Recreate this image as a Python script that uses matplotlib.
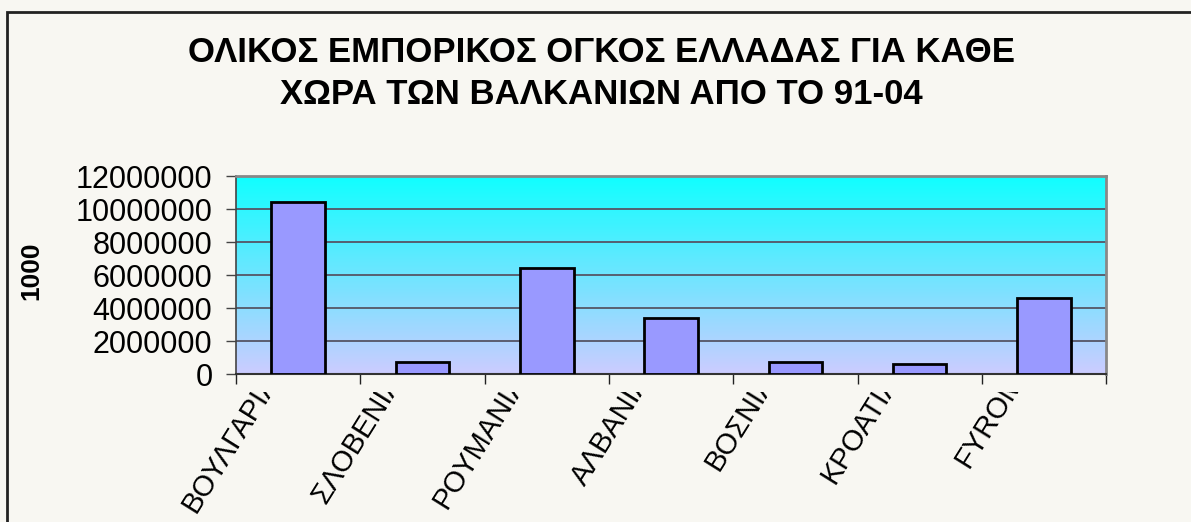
import matplotlib
matplotlib.use("Agg")
import matplotlib.pyplot as plt
import numpy as np
from matplotlib.colors import LinearSegmentedColormap
from matplotlib.patches import Rectangle
from matplotlib.transforms import Bbox, TransformedBbox, blended_transform_factory

plt.rcParams["font.family"] = ["Liberation Sans", "DejaVu Sans"]

countries = ["ΒΟΥΛΓΑΡΙΑ", "ΣΛΟΒΕΝΙΑ", "ΡΟΥΜΑΝΙΑ", "ΑΛΒΑΝΙΑ", "ΒΟΣΝΙΑ", "ΚΡΟΑΤΙΑ", "FYROM"]
trade_volume = [10440000, 710000, 6420000, 3410000, 730000, 610000, 4620000]
y_ticks = [0, 2000000, 4000000, 6000000, 8000000, 10000000, 12000000]
title_lines = ["ΟΛΙΚΟΣ ΕΜΠΟΡΙΚΟΣ ΟΓΚΟΣ ΕΛΛΑΔΑΣ ΓΙΑ ΚΑΘΕ", "ΧΩΡΑ ΤΩΝ ΒΑΛΚΑΝΙΩΝ ΑΠΟ ΤΟ 91-04"]
y_label = "1000"

bg = "#f8f7f2"
fig = plt.figure(figsize=(11.91, 5.22), dpi=100, facecolor=bg)
ax = fig.add_axes([0.1982, 0.2835, 0.7305, 0.3793])

# gradient plot area (cyan on top -> lavender at bottom)
cmap = LinearSegmentedColormap.from_list("bgfill", ["#ccccff", "#10ffff"])
grad = np.linspace(0, 1, 256).reshape(-1, 1)
ax.imshow(grad, cmap=cmap, aspect="auto", origin="lower",
          extent=[0, 1, 0, 1], transform=ax.transAxes, zorder=0)

x = np.arange(len(countries))
ax.bar(x, trade_volume, width=0.43, color="#9999ff", edgecolor="black",
       linewidth=2, zorder=3)

ax.set_xlim(-0.5, len(countries) - 0.5)
ax.set_ylim(0, 12000000)
ax.set_yticks(y_ticks)
ax.set_yticklabels([str(v) for v in y_ticks], fontsize=22)
ax.yaxis.grid(True, color="#555566", linewidth=1.3, zorder=1)
ax.set_axisbelow(True)

# ticks at category boundaries, labels drawn by hand
ax.set_xticks(np.arange(-0.5, len(countries)))
ax.set_xticklabels([])
ax.tick_params(axis="x", length=7, width=1, color="#222222", direction="out")
ax.tick_params(axis="y", length=7, width=1, color="#444444", direction="out", pad=10)

for side in ["top", "right"]:
    ax.spines[side].set_color("#888888")
    ax.spines[side].set_linewidth(2)
ax.spines["left"].set_color("#444444")
ax.spines["left"].set_linewidth(1.2)
ax.spines["bottom"].set_color("#333333")
ax.spines["bottom"].set_linewidth(1.5)

# category labels, cut off just under the axis like the original
clip = TransformedBbox(Bbox([[0, 0], [1, 0.249]]), fig.transFigure)
trans = blended_transform_factory(ax.transData, ax.transAxes)
for i, name in enumerate(countries):
    t = ax.text(i - 0.21, -0.01, name, transform=trans, rotation=58,
                ha="right", va="center", rotation_mode="anchor", fontsize=21)
    t.set_clip_box(clip)
    t.set_clip_on(True)

fig.text(0.505, 0.86, "\n".join(title_lines), ha="center", va="center",
         fontsize=25, fontweight="bold", linespacing=1.35)
fig.text(0.026, 0.481, y_label, rotation=90, ha="center", va="center",
         fontsize=19, fontweight="bold")

# chart frame
fig.patches.append(Rectangle((7 / 1191, -0.1), 1.2, 1 - 12 / 522 + 0.1,
                             transform=fig.transFigure, fill=False,
                             edgecolor="#222222", linewidth=2))

fig.savefig("out.png", dpi=100, facecolor=bg)
